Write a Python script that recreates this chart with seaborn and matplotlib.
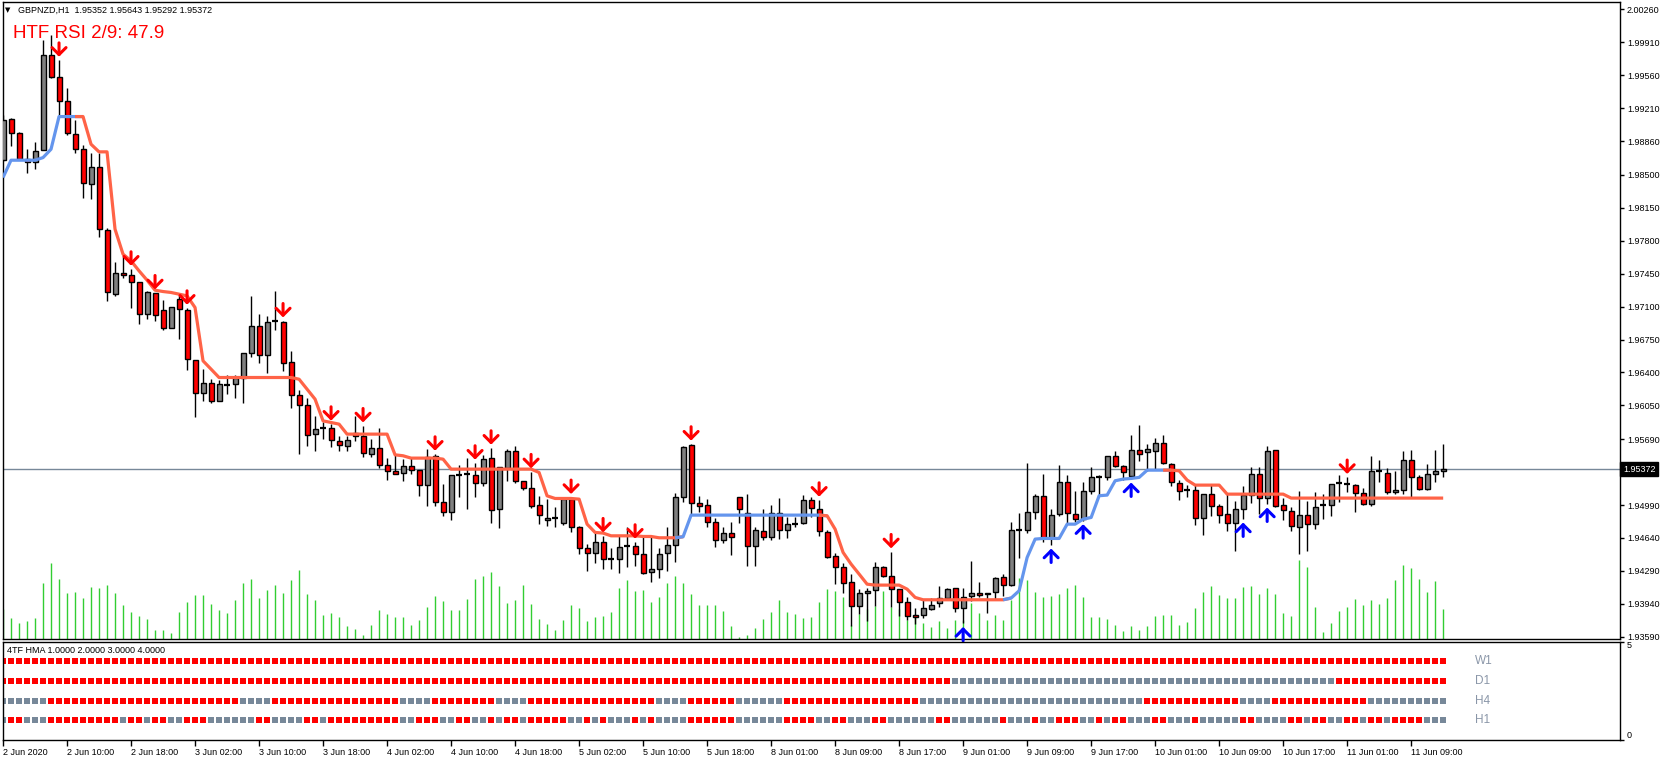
import numpy as np
import pandas as pd
import matplotlib
matplotlib.use("Agg")
import matplotlib.pyplot as plt
import matplotlib.transforms as mtransforms
import seaborn as sns

# ---- data: GBPNZD H1, 2 Jun 02:00 -> 11 Jun 10:00 ----
opens = [
    1.98656, 1.99092, 1.98943, 1.98667, 1.98635, 1.98762, 1.99776, 1.99545, 1.99283, 1.98932,
    1.98773, 1.98401, 1.98585, 1.97916, 1.97239, 1.97462, 1.97434, 1.97359, 1.97019, 1.97246,
    1.97062, 1.96870, 1.97179, 1.97065, 1.96530, 1.96180, 1.96286, 1.96098, 1.96271, 1.96275,
    1.96339, 1.96605, 1.96892, 1.96587, 1.96948, 1.96934, 1.96509, 1.96158, 1.96052, 1.95744,
    1.95807, 1.95807, 1.95666, 1.95613, 1.95761, 1.95726, 1.95531, 1.95595, 1.95414, 1.95354,
    1.95329, 1.95404, 1.95361, 1.95202, 1.95510, 1.95021, 1.94915, 1.95308, 1.95315, 1.95308,
    1.95223, 1.95489, 1.94947, 1.95382, 1.95563, 1.95244, 1.95170, 1.94986, 1.94830, 1.94848,
    1.94801, 1.95053, 1.94759, 1.94532, 1.94479, 1.94596, 1.94415, 1.94415, 1.94553, 1.94553,
    1.94468, 1.94277, 1.94309, 1.94479, 1.94568, 1.95071, 1.95627, 1.95010, 1.94986, 1.94805,
    1.94617, 1.94691, 1.95074, 1.94904, 1.94550, 1.94713, 1.94649, 1.94904, 1.94720, 1.94791,
    1.94794, 1.95042, 1.94947, 1.94702, 1.94447, 1.94330, 1.94171, 1.93912, 1.94054, 1.94086,
    1.94330, 1.94234, 1.94096, 1.93958, 1.93820, 1.93820, 1.93884, 1.93947, 1.94001, 1.94103,
    1.93894, 1.94022, 1.94054, 1.94054, 1.94064, 1.94224, 1.94139, 1.94723, 1.94723, 1.94915,
    1.95085, 1.94645, 1.94893, 1.95234, 1.94893, 1.94840, 1.95138, 1.95287, 1.95287, 1.95510,
    1.95404, 1.95298, 1.95574, 1.95553, 1.95563, 1.95648, 1.95425, 1.95223, 1.95149, 1.95149,
    1.94851, 1.95106, 1.94979, 1.94894, 1.94798, 1.94947, 1.95096, 1.95319, 1.95064, 1.95574,
    1.94990, 1.94926, 1.94756, 1.94883, 1.94788, 1.94990, 1.94990, 1.95220, 1.95209, 1.95202,
    1.95117, 1.95000, 1.95351, 1.95330, 1.95128, 1.95149, 1.95468, 1.95287, 1.95160, 1.95319,
    1.95352,
]
highs = [
    1.99134, 1.99102, 1.98957, 1.98773, 1.98851, 1.99932, 1.99988, 1.99719, 1.99421, 1.99085,
    1.98819, 1.98730, 1.98738, 1.97933, 1.97575, 1.97639, 1.97498, 1.97359, 1.97267, 1.97246,
    1.97168, 1.97097, 1.97221, 1.97083, 1.96530, 1.96435, 1.96328, 1.96318, 1.96374, 1.96374,
    1.96605, 1.97214, 1.97026, 1.96998, 1.97267, 1.96948, 1.96629, 1.96211, 1.96133, 1.95939,
    1.95868, 1.95850, 1.95726, 1.95726, 1.95932, 1.95832, 1.95691, 1.95808, 1.95489, 1.95521,
    1.95478, 1.95503, 1.95361, 1.95584, 1.95531, 1.95212, 1.95308, 1.95414, 1.95489, 1.95436,
    1.95524, 1.95595, 1.95397, 1.95584, 1.95616, 1.95244, 1.95344, 1.95081, 1.95053, 1.94964,
    1.95071, 1.95071, 1.94770, 1.94575, 1.94699, 1.94663, 1.94532, 1.94674, 1.94752, 1.94596,
    1.94646, 1.94646, 1.94532, 1.94752, 1.95113, 1.95620, 1.95638, 1.95085, 1.95057, 1.94851,
    1.94752, 1.94812, 1.95074, 1.95110, 1.94752, 1.94943, 1.94993, 1.95063, 1.94858, 1.94858,
    1.95095, 1.95071, 1.95042, 1.94723, 1.94479, 1.94369, 1.94256, 1.94096, 1.94107, 1.94383,
    1.94344, 1.94493, 1.94096, 1.94008, 1.93894, 1.93979, 1.94001, 1.94132, 1.94107, 1.94110,
    1.94107, 1.94394, 1.94171, 1.94054, 1.94224, 1.94259, 1.94815, 1.94904, 1.95436, 1.95106,
    1.95319, 1.94947, 1.95414, 1.95308, 1.95141, 1.95234, 1.95390, 1.95308, 1.95510, 1.95567,
    1.95418, 1.95737, 1.95843, 1.95638, 1.95702, 1.95737, 1.95432, 1.95255, 1.95206, 1.95206,
    1.95106, 1.95202, 1.95000, 1.95106, 1.95036, 1.95191, 1.95397, 1.95397, 1.95620, 1.95574,
    1.95064, 1.94965, 1.95142, 1.95036, 1.95128, 1.95106, 1.95213, 1.95308, 1.95284, 1.95213,
    1.95170, 1.95510, 1.95468, 1.95383, 1.95351, 1.95563, 1.95574, 1.95308, 1.95425, 1.95574,
    1.95643,
]
lows = [
    1.98649, 1.98808, 1.98656, 1.98525, 1.98560, 1.98762, 1.99535, 1.99117, 1.98922, 1.98730,
    1.98259, 1.98242, 1.97845, 1.97154, 1.97214, 1.97409, 1.97090, 1.96920, 1.96973, 1.96948,
    1.96849, 1.96870, 1.96753, 1.96424, 1.95921, 1.96098, 1.96070, 1.96098, 1.96169, 1.96133,
    1.96070, 1.96559, 1.96505, 1.96399, 1.96849, 1.96410, 1.96027, 1.95531, 1.95620, 1.95567,
    1.95691, 1.95602, 1.95567, 1.95567, 1.95673, 1.95506, 1.95503, 1.95379, 1.95255, 1.95319,
    1.95241, 1.95319, 1.95081, 1.94975, 1.94982, 1.94869, 1.94830, 1.95071, 1.94947, 1.95071,
    1.95195, 1.94798, 1.94745, 1.95248, 1.95223, 1.95149, 1.94954, 1.94787, 1.94770, 1.94752,
    1.94780, 1.94699, 1.94468, 1.94284, 1.94369, 1.94305, 1.94305, 1.94263, 1.94334, 1.94344,
    1.94256, 1.94167, 1.94213, 1.94291, 1.94380, 1.95018, 1.94883, 1.94911, 1.94752, 1.94539,
    1.94582, 1.94461, 1.94794, 1.94337, 1.94337, 1.94617, 1.94617, 1.94624, 1.94645, 1.94752,
    1.94787, 1.94865, 1.94663, 1.94426, 1.94149, 1.94050, 1.93707, 1.93831, 1.93753, 1.93912,
    1.94220, 1.93901, 1.93809, 1.93767, 1.93724, 1.93788, 1.93873, 1.93901, 1.93979, 1.93855,
    1.93731, 1.93972, 1.94008, 1.93838, 1.93979, 1.94022, 1.94128, 1.94422, 1.94691, 1.94840,
    1.94599, 1.94564, 1.94872, 1.94794, 1.94815, 1.94823, 1.95106, 1.95096, 1.95255, 1.95397,
    1.95255, 1.95266, 1.95461, 1.95354, 1.95372, 1.95425, 1.95195, 1.95046, 1.95071, 1.94780,
    1.94674, 1.94869, 1.94795, 1.94717, 1.94504, 1.94841, 1.95007, 1.94894, 1.95000, 1.94965,
    1.94830, 1.94710, 1.94469, 1.94497, 1.94734, 1.94841, 1.94876, 1.95018, 1.95124, 1.94912,
    1.94993, 1.94975, 1.95230, 1.95106, 1.95106, 1.95106, 1.95064, 1.95149, 1.95149, 1.95230,
    1.95292,
]
closes = [
    1.99085, 1.98943, 1.98667, 1.98635, 1.98752, 1.99776, 1.99545, 1.99283, 1.98943, 1.98773,
    1.98412, 1.98585, 1.97923, 1.97250, 1.97462, 1.97434, 1.97359, 1.97019, 1.97257, 1.97009,
    1.96870, 1.97097, 1.97072, 1.96541, 1.96180, 1.96286, 1.96098, 1.96275, 1.96271, 1.96339,
    1.96605, 1.96892, 1.96587, 1.96934, 1.96948, 1.96498, 1.96158, 1.96052, 1.95733, 1.95797,
    1.95807, 1.95683, 1.95627, 1.95680, 1.95726, 1.95542, 1.95595, 1.95414, 1.95354, 1.95319,
    1.95404, 1.95361, 1.95202, 1.95496, 1.95021, 1.94915, 1.95308, 1.95308, 1.95315, 1.95223,
    1.95478, 1.94936, 1.95390, 1.95567, 1.95244, 1.95170, 1.94979, 1.94883, 1.94855, 1.94848,
    1.95053, 1.94759, 1.94532, 1.94479, 1.94596, 1.94415, 1.94415, 1.94543, 1.94553, 1.94468,
    1.94266, 1.94309, 1.94468, 1.94568, 1.95071, 1.95606, 1.95010, 1.94975, 1.94805, 1.94617,
    1.94691, 1.94649, 1.94947, 1.94550, 1.94723, 1.94649, 1.94904, 1.94720, 1.94787, 1.94791,
    1.95042, 1.94957, 1.94713, 1.94443, 1.94330, 1.94160, 1.93912, 1.94054, 1.94075, 1.94330,
    1.94231, 1.94096, 1.93958, 1.93809, 1.93799, 1.93894, 1.93926, 1.94001, 1.94096, 1.93894,
    1.94011, 1.94054, 1.94032, 1.94043, 1.94213, 1.94139, 1.94723, 1.94723, 1.94915, 1.95085,
    1.94645, 1.94883, 1.95234, 1.94904, 1.94840, 1.95138, 1.95284, 1.95287, 1.95510, 1.95404,
    1.95340, 1.95574, 1.95532, 1.95581, 1.95648, 1.95436, 1.95234, 1.95142, 1.95149, 1.94851,
    1.95106, 1.94979, 1.94883, 1.94798, 1.94947, 1.95096, 1.95319, 1.95064, 1.95563, 1.94979,
    1.94936, 1.94766, 1.94883, 1.94788, 1.94968, 1.94990, 1.95213, 1.95220, 1.95209, 1.95117,
    1.95000, 1.95351, 1.95351, 1.95128, 1.95149, 1.95468, 1.95287, 1.95160, 1.95319, 1.95351,
    1.95372,
]
tick_volume = [
    30, 21, 16, 18, 21, 56, 76, 60, 46, 47, 41, 52, 51, 54, 46, 34, 27, 23, 20, 9,
    9, 6, 27, 37, 44, 44, 35, 29, 26, 39, 56, 60, 41, 49, 54, 46, 59, 69, 45, 39,
    24, 26, 22, 13, 10, 4, 14, 29, 25, 22, 22, 14, 19, 32, 43, 38, 29, 29, 40, 60,
    63, 67, 53, 36, 39, 54, 35, 20, 15, 9, 19, 34, 31, 18, 22, 23, 27, 51, 59, 48,
    49, 37, 42, 56, 63, 56, 45, 34, 34, 34, 28, 13, 2, 4, 11, 20, 27, 39, 27, 25,
    21, 22, 37, 50, 48, 42, 14, 25, 30, 33, 48, 32, 30, 19, 25, 16, 12, 18, 11, 19,
    19, 36, 26, 19, 24, 19, 39, 61, 59, 47, 42, 43, 45, 51, 54, 42, 22, 22, 20, 14,
    8, 13, 9, 13, 23, 24, 24, 14, 17, 31, 47, 53, 44, 41, 41, 52, 53, 45, 51, 45,
    26, 23, 79, 72, 32, 7, 16, 28, 32, 40, 34, 39, 35, 41, 59, 74, 71, 60, 47, 58,
    30,
]
# HTF trend line (stepped HMA), value per bar
hma_line = [
    1.98472, 1.98656, 1.98656, 1.98656, 1.98656, 1.98684, 1.98773, 1.99120, 1.99120, 1.99120,
    1.99120, 1.98826, 1.98745, 1.98745, 1.97923, 1.97657, 1.97586, 1.97480, 1.97381, 1.97274,
    1.97260, 1.97250, 1.97232, 1.97214, 1.97090, 1.96523, 1.96435, 1.96346, 1.96346, 1.96346,
    1.96346, 1.96346, 1.96346, 1.96346, 1.96346, 1.96346, 1.96346, 1.96328, 1.96222, 1.96116,
    1.95885, 1.95868, 1.95850, 1.95744, 1.95744, 1.95744, 1.95744, 1.95744, 1.95744, 1.95524,
    1.95514, 1.95489, 1.95489, 1.95489, 1.95489, 1.95478, 1.95372, 1.95372, 1.95372, 1.95372,
    1.95372, 1.95372, 1.95372, 1.95372, 1.95372, 1.95372, 1.95372, 1.95336, 1.95088, 1.95060,
    1.95060, 1.95060, 1.95053, 1.94787, 1.94699, 1.94692, 1.94663, 1.94663, 1.94663, 1.94663,
    1.94656, 1.94656, 1.94642, 1.94642, 1.94642, 1.94653, 1.94883, 1.94883, 1.94883, 1.94883,
    1.94883, 1.94883, 1.94883, 1.94883, 1.94883, 1.94883, 1.94883, 1.94883, 1.94883, 1.94883,
    1.94883, 1.94883, 1.94883, 1.94876, 1.94734, 1.94486, 1.94362, 1.94256, 1.94149, 1.94139,
    1.94139, 1.94139, 1.94139, 1.94096, 1.94008, 1.93983, 1.93983, 1.93983, 1.93983, 1.93983,
    1.93983, 1.93983, 1.93983, 1.93983, 1.93983, 1.93983, 1.94001, 1.94079, 1.94433, 1.94628,
    1.94635, 1.94635, 1.94635, 1.94787, 1.94787, 1.94840, 1.94858, 1.95089, 1.95096, 1.95248,
    1.95266, 1.95273, 1.95284, 1.95361, 1.95361, 1.95361, 1.95361, 1.95354, 1.95255, 1.95202,
    1.95202, 1.95202, 1.95202, 1.95106, 1.95106, 1.95106, 1.95106, 1.95106, 1.95106, 1.95106,
    1.95106, 1.95064, 1.95064, 1.95064, 1.95064, 1.95064, 1.95064, 1.95064, 1.95064, 1.95064,
    1.95064, 1.95064, 1.95064, 1.95064, 1.95064, 1.95064, 1.95064, 1.95064, 1.95064, 1.95064,
    1.95064,
]
hma_turns = [0, 10, 85, 103, 126, 146]          # bar where the line colour switches
hma_up = [True, False, True, False, True, False]
sell_bars = [7, 16, 19, 23, 35, 41, 45, 54, 59, 61, 66, 71, 75, 79, 86, 102, 111, 168]
buy_bars = [120, 131, 135, 141, 155, 158]
last_price = 1.95372

time_labels = [
    "2 Jun 2020", "2 Jun 10:00", "2 Jun 18:00", "3 Jun 02:00", "3 Jun 10:00", "3 Jun 18:00",
    "4 Jun 02:00", "4 Jun 10:00", "4 Jun 18:00", "5 Jun 02:00", "5 Jun 10:00", "5 Jun 18:00",
    "8 Jun 01:00", "8 Jun 09:00", "8 Jun 17:00", "9 Jun 01:00", "9 Jun 09:00", "9 Jun 17:00",
    "10 Jun 01:00", "10 Jun 09:00", "10 Jun 17:00", "11 Jun 01:00", "11 Jun 09:00",
]
price_labels = [
    "2.00260", "1.99910", "1.99560", "1.99210", "1.98860", "1.98500", "1.98150", "1.97800",
    "1.97450", "1.97100", "1.96750", "1.96400", "1.96050", "1.95690", "1.95340", "1.94990",
    "1.94640", "1.94290", "1.93940", "1.93590",
]

# 4TF HMA: bars where each timeframe is "up" (grey), all others are "down" (red)
tf_names = ["W1", "D1", "H4", "H1"]
w1_up = []
d1_up = [(119, 166)]
h4_up = [(0, 5), (30, 33), (50, 53), (62, 65), (82, 85), (92, 97), (115, 142), (155, 158), (171, 180)]
h1_up = [(0, 0), (3, 5), (15, 15), (18, 18), (21, 22), (26, 31), (34, 37), (40, 40), (50, 51),
         (55, 56), (59, 60), (62, 62), (65, 65), (71, 72), (74, 74), (76, 78), (80, 80), (82, 85),
         (92, 97), (102, 103), (106, 108), (111, 116), (119, 124), (126, 128), (130, 131),
         (135, 136), (138, 138), (141, 143), (146, 148), (150, 154), (157, 160), (163, 163),
         (166, 167), (170, 170), (173, 173), (178, 180)]

# ---- style ----
sns.set_theme(style="white")
plt.rcParams["font.family"] = ["Liberation Sans", "DejaVu Sans"]

RED = "#FF0000"
GREY = "#808080"
SLATE = "#778899"
W, H = 1666, 761


def rect(x0, y0, x1, y1):
    return [x0 / W, 1 - y1 / H, (x1 - x0) / W, (y1 - y0) / H]


o, hi, lo, c = map(np.array, (opens, highs, lows, closes))
n = len(c)
xs = np.arange(n)

fig = plt.figure(figsize=(W / 100, H / 100), dpi=100)
axv = fig.add_axes(rect(2.7, 2, 1620, 639))
ax = fig.add_axes(rect(2.7, 2, 1620, 639), sharex=axv)
axh = fig.add_axes(rect(2.7, 641.5, 1620, 740), sharex=axv)
ax.set_xlim(-0.04, 202.1)

# volumes in the background of the price window
axv.vlines(xs, 0, tick_volume, colors="#32CD32", lw=1)
axv.set_ylim(0, max(tick_volume) * 8.06)
axv.axis("off")

ax.set_facecolor("none")
ax.set_ylim(1.93566, 2.00338)

# candles
bull, bear, doji = c > o, c < o, c == o
ax.vlines(xs, lo, hi, colors="black", lw=1, zorder=3)
ax.bar(xs[bull], (c - o)[bull], bottom=o[bull], width=0.62, color=GREY,
       edgecolor="black", lw=1, zorder=4)
ax.bar(xs[bear], (o - c)[bear], bottom=c[bear], width=0.62, color=RED,
       edgecolor="black", lw=1, zorder=4)
ax.hlines(c[doji], xs[doji] - 0.36, xs[doji] + 0.36, colors="black", lw=1.6, zorder=4)

# trend line, coloured by direction
hma = np.array(hma_line)
ends = hma_turns[1:] + [n - 1]
for start, end, up in zip(hma_turns, ends, hma_up):
    a = max(start - 1, 0)
    ax.plot(xs[a:end + 1], hma[a:end + 1], color="#6495ED" if up else "#FF6347",
            lw=2.3, solid_capstyle="butt", zorder=5)

# signal arrows
for b in sell_bars:
    ax.annotate("", xy=(b, hi[b]), xytext=(0, 12.5), textcoords="offset points",
                arrowprops=dict(arrowstyle="->,head_width=0.42,head_length=0.42",
                                color=RED, lw=2.2, shrinkA=0, shrinkB=2.5), zorder=6)
for b in buy_bars:
    ax.annotate("", xy=(b, lo[b]), xytext=(0, -12.5), textcoords="offset points",
                arrowprops=dict(arrowstyle="->,head_width=0.42,head_length=0.42",
                                color="#0000FF", lw=2.2, shrinkA=0, shrinkB=2.5), zorder=6)

# bid line + price box (it covers the scale label underneath, as in the terminal)
ax.axhline(last_price, color=SLATE, lw=1, zorder=2)
blend = mtransforms.blended_transform_factory(ax.transAxes, ax.transData)
ax.text(1.0 + 3 / 1617, last_price, f"{last_price:.5f}", transform=blend, color="white",
        fontsize=6.5, va="center", ha="left", clip_on=False, zorder=10,
        bbox=dict(boxstyle="square,pad=0.3", fc="black", ec="black"))

ax.text(0.0095, 0.9874, "GBPNZD,H1  1.95352 1.95643 1.95292 1.95372", transform=ax.transAxes,
        fontsize=6.5, va="center", ha="left", color="black", zorder=7)
ax.text(0.0014, 0.9874, "▼", transform=ax.transAxes, fontsize=5, va="center", ha="left",
        family="DejaVu Sans", color="black", zorder=7)
ax.text(0.0064, 0.9498, "HTF RSI 2/9: 47.9", transform=ax.transAxes, fontsize=13.5,
        va="center", ha="left", color=RED, zorder=1)

ax.yaxis.tick_right()
ax.set_yticks([float(v) for v in price_labels])
ax.set_yticklabels(["" if float(v) == 1.95340 else v for v in price_labels])
ax.tick_params(axis="y", right=True, left=False, labelright=True, labelleft=False,
               length=3, width=1, pad=2, labelsize=6.5, colors="black", direction="out")
ax.tick_params(axis="x", bottom=False, labelbottom=False)

# 4TF HMA sub window
frames = []
for lvl, name, ups in zip([4, 3, 2, 1], tf_names, [w1_up, d1_up, h4_up, h1_up]):
    state = np.array(["down"] * n, dtype=object)
    for a, b in ups:
        state[a:b + 1] = "up"
    frames.append(pd.DataFrame({"bar": xs, "level": lvl, "state": state}))
    axh.text(184, lvl, name, va="center", ha="left", color="#8a96a8", fontsize=8.5)
tf = pd.concat(frames, ignore_index=True)
sns.scatterplot(data=tf, x="bar", y="level", hue="state", palette={"down": RED, "up": SLATE},
                marker="s", s=19, linewidth=0, legend=False, ax=axh)
axh.set_ylim(0, 5)
axh.set_xlabel("")
axh.set_ylabel("")
axh.text(0.0027, 0.905, "4TF HMA 1.0000 2.0000 3.0000 4.0000", transform=axh.transAxes,
         fontsize=6.5, va="center", ha="left", color="black")
axh.yaxis.tick_right()
axh.set_yticks([0, 5])
axh.set_yticklabels(["0", "5"])
lab0, lab5 = axh.get_yticklabels()
lab0.set_va("bottom")
lab5.set_va("top")
axh.tick_params(axis="y", right=True, left=False, length=3, width=1, pad=2, labelsize=6.5,
                colors="black", direction="out")
axh.set_xticks(xs[::8][:len(time_labels)])
axh.set_xticklabels(time_labels, ha="left")
axh.tick_params(axis="x", bottom=True, length=4, width=1, pad=1.5, labelsize=6.5,
                colors="black", direction="out")

for a in (ax, axh):
    for sp in a.spines.values():
        sp.set_color("black")
        sp.set_linewidth(1)
        sp.set_visible(True)

fig.savefig("out.png", dpi=100, facecolor="white")
